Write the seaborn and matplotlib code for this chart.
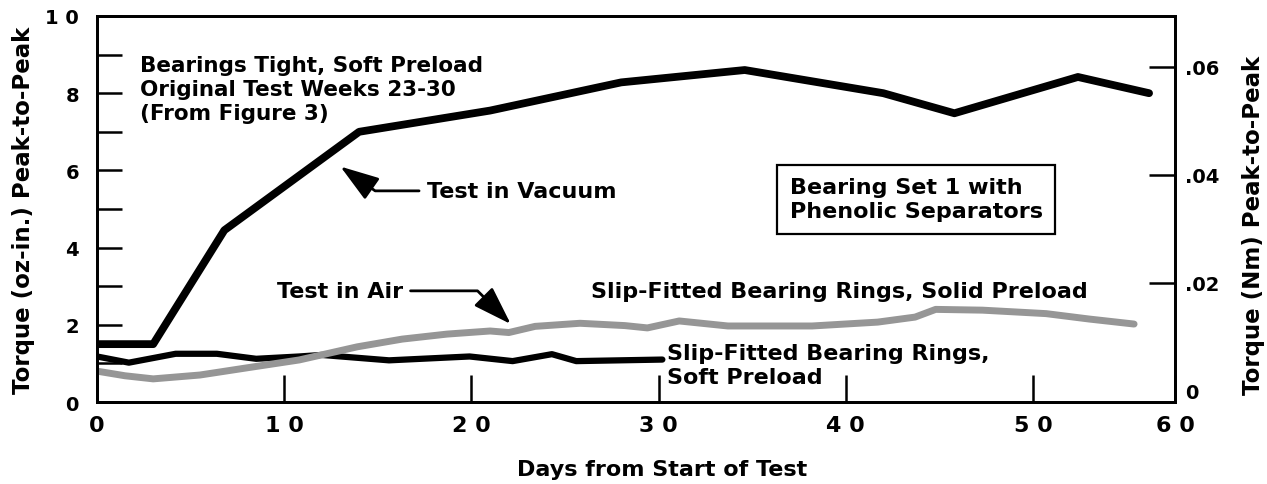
import matplotlib
matplotlib.use("Agg")
import matplotlib.pyplot as plt
import seaborn as sns
import pandas as pd

# ---- data ----
vacuum_days = [0, 3.0, 6.8, 14.0, 21.0, 28.0, 34.6, 42.0, 45.8, 52.4, 56.2]
vacuum_torque = [1.5, 1.5, 4.45, 7.0, 7.55, 8.28, 8.6, 8.0, 7.48, 8.42, 8.0]

air_days = [0, 1.5, 3.0, 5.5, 8.2, 10.8, 13.9, 16.3, 18.7, 21.0, 22.0, 23.4,
            25.8, 28.2, 29.4, 31.1, 33.7, 38.2, 41.7, 43.7, 44.8, 47.3, 50.7,
            53.0, 55.4]
air_torque = [0.8, 0.68, 0.6, 0.7, 0.9, 1.09, 1.43, 1.63, 1.76, 1.84, 1.8, 1.96,
              2.04, 1.98, 1.92, 2.1, 1.97, 1.97, 2.07, 2.2, 2.4, 2.38, 2.29,
              2.15, 2.02]

soft_days = [0, 1.7, 4.2, 6.4, 8.5, 10.8, 12.0, 15.6, 19.9, 22.2, 24.3, 25.6, 30.2]
soft_torque = [1.18, 1.02, 1.25, 1.25, 1.12, 1.18, 1.22, 1.08, 1.18, 1.06, 1.24,
               1.06, 1.1]

x_tick_values = [0, 10, 20, 30, 40, 50, 57.6]
x_tick_labels = ["0", "1 0", "2 0", "3 0", "4 0", "5 0", "6 0"]
y_tick_values = list(range(0, 11))
y_tick_labels = ["0", "", "2", "", "4", "", "6", "", "8", "", "1 0"]
nm_tick_values = [0, 0.02, 0.04, 0.06]
nm_tick_labels = ["0", ".02", ".04", ".06"]

# ---- style ----
sns.set_theme(style="ticks", rc={
    "axes.edgecolor": "black", "text.color": "black",
    "axes.labelcolor": "black", "xtick.color": "black", "ytick.color": "black",
})
plt.rcParams["font.family"] = ["DejaVu Sans"]
plt.rcParams["font.weight"] = "bold"
plt.rcParams["axes.labelweight"] = "bold"

fig = plt.figure(figsize=(12.67, 4.85), dpi=100)
ax = fig.add_axes([0.0766, 0.169, 0.851, 0.796])

df_vac = pd.DataFrame({"day": vacuum_days, "torque": vacuum_torque})
df_air = pd.DataFrame({"day": air_days, "torque": air_torque})
df_soft = pd.DataFrame({"day": soft_days, "torque": soft_torque})

sns.lineplot(data=df_vac, x="day", y="torque", ax=ax, color="black", lw=5.6,
             estimator=None, sort=False)
sns.lineplot(data=df_soft, x="day", y="torque", ax=ax, color="black", lw=4.5,
             estimator=None, sort=False)
sns.lineplot(data=df_air, x="day", y="torque", ax=ax, color="#969696", lw=5.0,
             estimator=None, sort=False)

ax.set_xlim(0, 57.6)
ax.set_ylim(0, 10)
ax.set_xticks(x_tick_values)
ax.set_xticklabels(x_tick_labels)
ax.set_yticks(y_tick_values)
ax.set_yticklabels(y_tick_labels)
ax.tick_params(axis="x", direction="in", length=19.5, width=1.8, pad=9, labelsize=16)
ax.tick_params(axis="y", direction="in", length=18, width=1.8, pad=13, labelsize=14)
for s in ax.spines.values():
    s.set_linewidth(2)
    s.set_color("black")

ax.set_xlabel("Days from Start of Test", fontsize=16, fontweight="bold")
ax.xaxis.set_label_coords(0.524, -0.148)
ax.set_ylabel("Torque (oz-in.) Peak-to-Peak", fontsize=16.5, fontweight="bold")
ax.yaxis.set_label_coords(-0.058, 0.5)

ax2 = ax.twinx()
ax2.set_ylim(-0.0021, 0.0694)
ax2.set_yticks(nm_tick_values)
ax2.set_yticklabels(nm_tick_labels)
ax2.tick_params(axis="y", direction="in", length=19, width=1.8, pad=7, labelsize=14)
ax2.yaxis.get_major_ticks()[0].tick2line.set_visible(False)
for s in ax2.spines.values():
    s.set_linewidth(2)
    s.set_color("black")
ax2.set_ylabel("Torque (Nm) Peak-to-Peak", fontsize=16.5, fontweight="bold")
ax2.yaxis.set_label_coords(1.062, 0.459)

# ---- annotations ----
ax.text(2.3, 8.12, "Bearings Tight, Soft Preload\nOriginal Test Weeks 23-30\n(From Figure 3)",
        ha="left", va="center", fontsize=15.5, linespacing=1.25)

arrow_kw = dict(arrowstyle="-|>,head_length=1.5,head_width=0.5", lw=2,
                color="black", shrinkA=3, shrinkB=0)
ax.annotate("Test in Vacuum", xy=(13.0, 6.1), xytext=(17.6, 5.47),
            ha="left", va="center", fontsize=16,
            arrowprops=dict(connectionstyle="angle,angleA=0,angleB=-35,rad=0",
                            relpos=(0, 0.5), **arrow_kw))
ax.annotate("Test in Air", xy=(22.1, 2.02), xytext=(16.35, 2.88),
            ha="right", va="center", fontsize=16,
            arrowprops=dict(connectionstyle="angle,angleA=0,angleB=-45,rad=0",
                            relpos=(1, 0.5), **arrow_kw))

ax.text(26.4, 2.88, "Slip-Fitted Bearing Rings, Solid Preload",
        ha="left", va="center", fontsize=16)
ax.text(30.45, 0.97, "Slip-Fitted Bearing Rings,\nSoft Preload",
        ha="left", va="center", fontsize=16, linespacing=1.25)

ax.text(37.0, 5.25, "Bearing Set 1 with\nPhenolic Separators",
        ha="left", va="center", fontsize=16, linespacing=1.25,
        bbox=dict(boxstyle="square,pad=0.55", fc="white", ec="black", lw=1.6))

fig.savefig("out.png", dpi=100)
